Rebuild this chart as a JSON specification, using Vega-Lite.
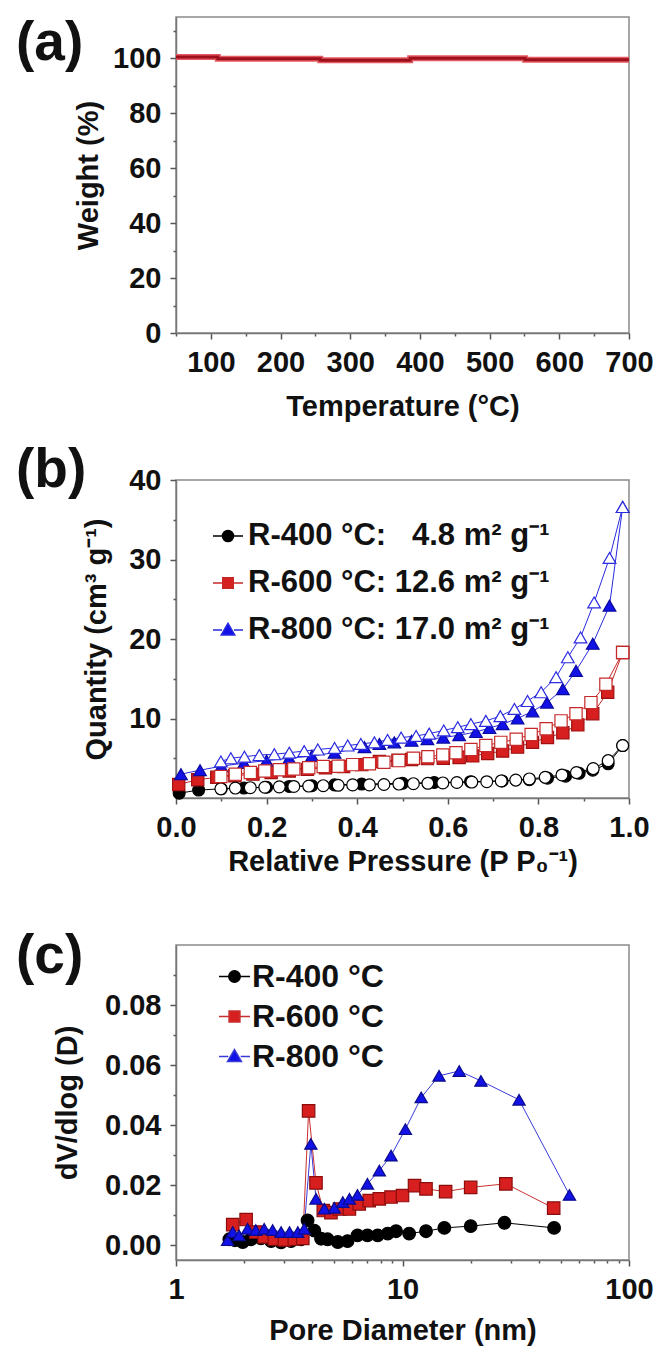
{
  "$schema": "https://vega.github.io/schema/vega-lite/v6.json",
  "background": "white",
  "padding": {"left": 15, "top": 15, "right": 0, "bottom": 0},
  "spacing": 147,
  "bounds": "flush",
  "config": {
    "font": "Liberation Sans",
    "view": {"stroke": "#8a8a8a", "strokeWidth": 1.5},
    "axis": {
      "grid": false,
      "labelFont": "Liberation Sans", "labelFontSize": 29, "labelFontWeight": "bold", "labelColor": "#111111",
      "titleFont": "Liberation Sans", "titleFontSize": 29, "titleFontWeight": "bold", "titleColor": "#111111",
      "domainColor": "#777777", "domainWidth": 1.5, "tickColor": "#555555", "tickWidth": 1.5,
      "labelFlush": false, "labelOverlap": false, "labelPadding": 9
    },
    "title": {"font": "Liberation Sans", "fontSize": 55, "fontWeight": "bold", "color": "#111111", "anchor": "start", "orient": "none", "baseline": "top", "offset": 0, "dx": -160}
  },
  "resolve": {"scale": {"fill": "independent", "stroke": "independent", "shape": "independent", "size": "independent"}, "legend": {"fill": "independent", "shape": "independent", "stroke": "independent"}},
  "vconcat": [
    {
      "width": 453, "height": 316,
      "title": {"text": "(a)", "dy": 0},
      "data": {"values": [
        {"i": 1, "t": 50, "w": 100.4}, {"i": 2, "t": 110, "w": 100.4}, {"i": 3, "t": 110, "w": 99.8},
        {"i": 4, "t": 257, "w": 99.8}, {"i": 5, "t": 257, "w": 99.3}, {"i": 6, "t": 386, "w": 99.3},
        {"i": 7, "t": 386, "w": 100.0}, {"i": 8, "t": 551, "w": 100.0}, {"i": 9, "t": 551, "w": 99.4},
        {"i": 10, "t": 700, "w": 99.4}
      ]},
      "encoding": {
        "x": {"field": "t", "type": "quantitative", "scale": {"domain": [50, 700], "nice": false, "zero": false},
          "axis": {"title": "Temperature (°C)", "titlePadding": 15,
            "values": [50, 100, 150, 200, 250, 300, 350, 400, 450, 500, 550, 600, 650, 700],
            "labelExpr": "datum.value % 100 == 0 ? datum.label : ''",
            "tickSize": {"condition": {"test": "datum.value % 100 == 0", "value": 6}, "value": 3}}},
        "y": {"field": "w", "type": "quantitative", "scale": {"domain": [0, 115], "nice": false},
          "axis": {"title": "Weight (%)", "titlePadding": 9,
            "values": [0, 10, 20, 30, 40, 50, 60, 70, 80, 90, 100, 110],
            "labelExpr": "datum.value % 20 == 0 ? datum.label : ''",
            "tickSize": {"condition": {"test": "datum.value % 20 == 0", "value": 6}, "value": 3}}},
        "order": {"field": "i", "type": "quantitative"}
      },
      "layer": [
        {"mark": {"type": "line", "color": "#e35a62", "strokeWidth": 6}},
        {"mark": {"type": "line", "color": "#9e0f1c", "strokeWidth": 3}}
      ]
    },
    {
      "width": 453, "height": 318,
      "title": {"text": "(b)", "dy": -36},
      "data": {"values": [
        {"s": "R-400", "k": "a", "i": 1, "x": 0.007, "y": 0.6},
        {"s": "R-400", "k": "a", "i": 2, "x": 0.05, "y": 1.0},
        {"s": "R-400", "k": "a", "i": 3, "x": 0.1, "y": 1.15},
        {"s": "R-400", "k": "a", "i": 4, "x": 0.15, "y": 1.25},
        {"s": "R-400", "k": "a", "i": 5, "x": 0.2, "y": 1.35},
        {"s": "R-400", "k": "a", "i": 6, "x": 0.25, "y": 1.45},
        {"s": "R-400", "k": "a", "i": 7, "x": 0.3, "y": 1.55},
        {"s": "R-400", "k": "a", "i": 8, "x": 0.35, "y": 1.65},
        {"s": "R-400", "k": "a", "i": 9, "x": 0.41, "y": 1.75},
        {"s": "R-400", "k": "a", "i": 10, "x": 0.5, "y": 1.85},
        {"s": "R-400", "k": "a", "i": 11, "x": 0.57, "y": 1.95},
        {"s": "R-400", "k": "a", "i": 12, "x": 0.65, "y": 2.05},
        {"s": "R-400", "k": "a", "i": 13, "x": 0.72, "y": 2.15},
        {"s": "R-400", "k": "a", "i": 14, "x": 0.78, "y": 2.3},
        {"s": "R-400", "k": "a", "i": 15, "x": 0.82, "y": 2.5},
        {"s": "R-400", "k": "a", "i": 16, "x": 0.86, "y": 2.75},
        {"s": "R-400", "k": "a", "i": 17, "x": 0.89, "y": 3.1},
        {"s": "R-400", "k": "a", "i": 18, "x": 0.92, "y": 3.5},
        {"s": "R-400", "k": "a", "i": 19, "x": 0.954, "y": 4.3},
        {"s": "R-400", "k": "a", "i": 20, "x": 0.986, "y": 6.6},
        {"s": "R-400", "k": "d", "i": 21, "x": 0.986, "y": 6.6},
        {"s": "R-400", "k": "d", "i": 22, "x": 0.954, "y": 4.7},
        {"s": "R-400", "k": "d", "i": 23, "x": 0.921, "y": 3.7},
        {"s": "R-400", "k": "d", "i": 24, "x": 0.884, "y": 3.2},
        {"s": "R-400", "k": "d", "i": 25, "x": 0.852, "y": 2.9},
        {"s": "R-400", "k": "d", "i": 26, "x": 0.815, "y": 2.6},
        {"s": "R-400", "k": "d", "i": 27, "x": 0.78, "y": 2.4},
        {"s": "R-400", "k": "d", "i": 28, "x": 0.75, "y": 2.25},
        {"s": "R-400", "k": "d", "i": 29, "x": 0.718, "y": 2.15},
        {"s": "R-400", "k": "d", "i": 30, "x": 0.686, "y": 2.05},
        {"s": "R-400", "k": "d", "i": 31, "x": 0.653, "y": 2.0},
        {"s": "R-400", "k": "d", "i": 32, "x": 0.62, "y": 1.95},
        {"s": "R-400", "k": "d", "i": 33, "x": 0.589, "y": 1.9},
        {"s": "R-400", "k": "d", "i": 34, "x": 0.556, "y": 1.85},
        {"s": "R-400", "k": "d", "i": 35, "x": 0.524, "y": 1.8},
        {"s": "R-400", "k": "d", "i": 36, "x": 0.492, "y": 1.75},
        {"s": "R-400", "k": "d", "i": 37, "x": 0.459, "y": 1.7},
        {"s": "R-400", "k": "d", "i": 38, "x": 0.427, "y": 1.65},
        {"s": "R-400", "k": "d", "i": 39, "x": 0.39, "y": 1.65},
        {"s": "R-400", "k": "d", "i": 40, "x": 0.358, "y": 1.6},
        {"s": "R-400", "k": "d", "i": 41, "x": 0.325, "y": 1.55},
        {"s": "R-400", "k": "d", "i": 42, "x": 0.293, "y": 1.5},
        {"s": "R-400", "k": "d", "i": 43, "x": 0.26, "y": 1.45},
        {"s": "R-400", "k": "d", "i": 44, "x": 0.228, "y": 1.4},
        {"s": "R-400", "k": "d", "i": 45, "x": 0.196, "y": 1.35},
        {"s": "R-400", "k": "d", "i": 46, "x": 0.164, "y": 1.3},
        {"s": "R-400", "k": "d", "i": 47, "x": 0.131, "y": 1.25},
        {"s": "R-400", "k": "d", "i": 48, "x": 0.099, "y": 1.15},
        {"s": "R-600", "k": "a", "i": 1, "x": 0.006, "y": 1.7},
        {"s": "R-600", "k": "a", "i": 2, "x": 0.048, "y": 2.3},
        {"s": "R-600", "k": "a", "i": 3, "x": 0.09, "y": 2.6},
        {"s": "R-600", "k": "a", "i": 4, "x": 0.13, "y": 2.8},
        {"s": "R-600", "k": "a", "i": 5, "x": 0.17, "y": 3.0},
        {"s": "R-600", "k": "a", "i": 6, "x": 0.21, "y": 3.2},
        {"s": "R-600", "k": "a", "i": 7, "x": 0.25, "y": 3.4},
        {"s": "R-600", "k": "a", "i": 8, "x": 0.29, "y": 3.6},
        {"s": "R-600", "k": "a", "i": 9, "x": 0.33, "y": 3.8},
        {"s": "R-600", "k": "a", "i": 10, "x": 0.37, "y": 3.95},
        {"s": "R-600", "k": "a", "i": 11, "x": 0.41, "y": 4.2},
        {"s": "R-600", "k": "a", "i": 12, "x": 0.449, "y": 4.6},
        {"s": "R-600", "k": "a", "i": 13, "x": 0.49, "y": 4.75},
        {"s": "R-600", "k": "a", "i": 14, "x": 0.52, "y": 4.85},
        {"s": "R-600", "k": "a", "i": 15, "x": 0.555, "y": 4.95},
        {"s": "R-600", "k": "a", "i": 16, "x": 0.59, "y": 5.0},
        {"s": "R-600", "k": "a", "i": 17, "x": 0.625, "y": 5.1},
        {"s": "R-600", "k": "a", "i": 18, "x": 0.655, "y": 5.3},
        {"s": "R-600", "k": "a", "i": 19, "x": 0.688, "y": 5.6},
        {"s": "R-600", "k": "a", "i": 20, "x": 0.721, "y": 5.9},
        {"s": "R-600", "k": "a", "i": 21, "x": 0.754, "y": 6.4},
        {"s": "R-600", "k": "a", "i": 22, "x": 0.787, "y": 7.0},
        {"s": "R-600", "k": "a", "i": 23, "x": 0.82, "y": 7.6},
        {"s": "R-600", "k": "a", "i": 24, "x": 0.854, "y": 8.2},
        {"s": "R-600", "k": "a", "i": 25, "x": 0.887, "y": 9.2},
        {"s": "R-600", "k": "a", "i": 26, "x": 0.92, "y": 10.6},
        {"s": "R-600", "k": "a", "i": 27, "x": 0.953, "y": 13.3},
        {"s": "R-600", "k": "a", "i": 28, "x": 0.986, "y": 18.3},
        {"s": "R-600", "k": "d", "i": 29, "x": 0.986, "y": 18.3},
        {"s": "R-600", "k": "d", "i": 30, "x": 0.949, "y": 14.3},
        {"s": "R-600", "k": "d", "i": 31, "x": 0.916, "y": 12.0},
        {"s": "R-600", "k": "d", "i": 32, "x": 0.883, "y": 10.6},
        {"s": "R-600", "k": "d", "i": 33, "x": 0.85, "y": 9.7},
        {"s": "R-600", "k": "d", "i": 34, "x": 0.817, "y": 8.7},
        {"s": "R-600", "k": "d", "i": 35, "x": 0.784, "y": 8.0},
        {"s": "R-600", "k": "d", "i": 36, "x": 0.751, "y": 7.4},
        {"s": "R-600", "k": "d", "i": 37, "x": 0.717, "y": 7.0},
        {"s": "R-600", "k": "d", "i": 38, "x": 0.684, "y": 6.6},
        {"s": "R-600", "k": "d", "i": 39, "x": 0.651, "y": 6.1},
        {"s": "R-600", "k": "d", "i": 40, "x": 0.618, "y": 5.7},
        {"s": "R-600", "k": "d", "i": 41, "x": 0.589, "y": 5.4},
        {"s": "R-600", "k": "d", "i": 42, "x": 0.556, "y": 5.2},
        {"s": "R-600", "k": "d", "i": 43, "x": 0.524, "y": 5.0},
        {"s": "R-600", "k": "d", "i": 44, "x": 0.492, "y": 4.7},
        {"s": "R-600", "k": "d", "i": 45, "x": 0.459, "y": 4.5},
        {"s": "R-600", "k": "d", "i": 46, "x": 0.427, "y": 4.3},
        {"s": "R-600", "k": "d", "i": 47, "x": 0.39, "y": 4.2},
        {"s": "R-600", "k": "d", "i": 48, "x": 0.358, "y": 4.0},
        {"s": "R-600", "k": "d", "i": 49, "x": 0.325, "y": 3.95},
        {"s": "R-600", "k": "d", "i": 50, "x": 0.293, "y": 3.8},
        {"s": "R-600", "k": "d", "i": 51, "x": 0.26, "y": 3.65},
        {"s": "R-600", "k": "d", "i": 52, "x": 0.228, "y": 3.55},
        {"s": "R-600", "k": "d", "i": 53, "x": 0.196, "y": 3.4},
        {"s": "R-600", "k": "d", "i": 54, "x": 0.164, "y": 3.2},
        {"s": "R-600", "k": "d", "i": 55, "x": 0.131, "y": 3.0},
        {"s": "R-600", "k": "d", "i": 56, "x": 0.099, "y": 2.7},
        {"s": "R-800", "k": "a", "i": 1, "x": 0.011, "y": 3.0},
        {"s": "R-800", "k": "a", "i": 2, "x": 0.053, "y": 3.5},
        {"s": "R-800", "k": "a", "i": 3, "x": 0.1, "y": 4.0},
        {"s": "R-800", "k": "a", "i": 4, "x": 0.15, "y": 4.4},
        {"s": "R-800", "k": "a", "i": 5, "x": 0.2, "y": 4.7},
        {"s": "R-800", "k": "a", "i": 6, "x": 0.25, "y": 5.0},
        {"s": "R-800", "k": "a", "i": 7, "x": 0.3, "y": 5.3},
        {"s": "R-800", "k": "a", "i": 8, "x": 0.35, "y": 5.7},
        {"s": "R-800", "k": "a", "i": 9, "x": 0.416, "y": 6.4},
        {"s": "R-800", "k": "a", "i": 10, "x": 0.449, "y": 6.8},
        {"s": "R-800", "k": "a", "i": 11, "x": 0.482, "y": 7.0},
        {"s": "R-800", "k": "a", "i": 12, "x": 0.52, "y": 7.2},
        {"s": "R-800", "k": "a", "i": 13, "x": 0.555, "y": 7.4},
        {"s": "R-800", "k": "a", "i": 14, "x": 0.59, "y": 7.6},
        {"s": "R-800", "k": "a", "i": 15, "x": 0.625, "y": 7.9},
        {"s": "R-800", "k": "a", "i": 16, "x": 0.662, "y": 8.3},
        {"s": "R-800", "k": "a", "i": 17, "x": 0.692, "y": 8.8},
        {"s": "R-800", "k": "a", "i": 18, "x": 0.721, "y": 9.3},
        {"s": "R-800", "k": "a", "i": 19, "x": 0.754, "y": 10.0},
        {"s": "R-800", "k": "a", "i": 20, "x": 0.787, "y": 10.9},
        {"s": "R-800", "k": "a", "i": 21, "x": 0.819, "y": 12.0},
        {"s": "R-800", "k": "a", "i": 22, "x": 0.854, "y": 13.7},
        {"s": "R-800", "k": "a", "i": 23, "x": 0.883, "y": 16.0},
        {"s": "R-800", "k": "a", "i": 24, "x": 0.92, "y": 19.4},
        {"s": "R-800", "k": "a", "i": 25, "x": 0.957, "y": 24.2},
        {"s": "R-800", "k": "a", "i": 26, "x": 0.986, "y": 36.6},
        {"s": "R-800", "k": "d", "i": 27, "x": 0.986, "y": 36.6},
        {"s": "R-800", "k": "d", "i": 28, "x": 0.957, "y": 30.2},
        {"s": "R-800", "k": "d", "i": 29, "x": 0.923, "y": 24.6},
        {"s": "R-800", "k": "d", "i": 30, "x": 0.893, "y": 20.2},
        {"s": "R-800", "k": "d", "i": 31, "x": 0.865, "y": 17.7},
        {"s": "R-800", "k": "d", "i": 32, "x": 0.839, "y": 15.2},
        {"s": "R-800", "k": "d", "i": 33, "x": 0.806, "y": 13.3},
        {"s": "R-800", "k": "d", "i": 34, "x": 0.776, "y": 12.2},
        {"s": "R-800", "k": "d", "i": 35, "x": 0.747, "y": 11.2},
        {"s": "R-800", "k": "d", "i": 36, "x": 0.716, "y": 10.3},
        {"s": "R-800", "k": "d", "i": 37, "x": 0.684, "y": 9.7},
        {"s": "R-800", "k": "d", "i": 38, "x": 0.651, "y": 9.3},
        {"s": "R-800", "k": "d", "i": 39, "x": 0.622, "y": 8.9},
        {"s": "R-800", "k": "d", "i": 40, "x": 0.591, "y": 8.5},
        {"s": "R-800", "k": "d", "i": 41, "x": 0.559, "y": 8.1},
        {"s": "R-800", "k": "d", "i": 42, "x": 0.53, "y": 7.8},
        {"s": "R-800", "k": "d", "i": 43, "x": 0.497, "y": 7.6},
        {"s": "R-800", "k": "d", "i": 44, "x": 0.467, "y": 7.3},
        {"s": "R-800", "k": "d", "i": 45, "x": 0.438, "y": 7.0},
        {"s": "R-800", "k": "d", "i": 46, "x": 0.408, "y": 6.8},
        {"s": "R-800", "k": "d", "i": 47, "x": 0.379, "y": 6.6},
        {"s": "R-800", "k": "d", "i": 48, "x": 0.35, "y": 6.3},
        {"s": "R-800", "k": "d", "i": 49, "x": 0.313, "y": 6.1},
        {"s": "R-800", "k": "d", "i": 50, "x": 0.283, "y": 5.9},
        {"s": "R-800", "k": "d", "i": 51, "x": 0.25, "y": 5.7},
        {"s": "R-800", "k": "d", "i": 52, "x": 0.217, "y": 5.5},
        {"s": "R-800", "k": "d", "i": 53, "x": 0.184, "y": 5.4},
        {"s": "R-800", "k": "d", "i": 54, "x": 0.151, "y": 5.2},
        {"s": "R-800", "k": "d", "i": 55, "x": 0.121, "y": 5.0},
        {"s": "R-800", "k": "d", "i": 56, "x": 0.099, "y": 4.6}
      ]},
      "encoding": {
        "x": {"field": "x", "type": "quantitative", "scale": {"domain": [0, 1], "nice": false, "zero": false},
          "axis": {"title": "Relative Pressure (P P₀⁻¹)", "titlePadding": 5,
            "values": [0, 0.1, 0.2, 0.3, 0.4, 0.5, 0.6, 0.7, 0.8, 0.9, 1.0],
            "labelExpr": "round(datum.value * 10) % 2 == 0 ? format(datum.value, '.1f') : ''",
            "tickSize": {"condition": {"test": "round(datum.value * 10) % 2 == 0", "value": 6}, "value": 3}}},
        "y": {"field": "y", "type": "quantitative", "scale": {"domain": [0, 40], "nice": false},
          "axis": {"title": "Quantity (cm³ g⁻¹)", "titlePadding": 17,
            "values": [5, 10, 15, 20, 25, 30, 35, 40],
            "labelExpr": "datum.value % 10 == 0 ? datum.label : ''",
            "tickSize": {"condition": {"test": "datum.value % 10 == 0", "value": 6}, "value": 3}}}
      },
      "resolve": {"scale": {"fill": "independent", "stroke": "independent", "shape": "independent", "size": "independent"}},
      "layer": [
        {"mark": {"type": "line", "strokeWidth": 1},
          "encoding": {
            "detail": {"field": "s", "type": "nominal"},
            "order": {"field": "i", "type": "quantitative"},
            "stroke": {"field": "s", "type": "nominal", "scale": {"domain": ["R-400", "R-600", "R-800"], "range": ["#000000", "#c62828", "#2a2ae0"]}, "legend": null}
          }},
        {"transform": [{"filter": "datum.k == 'a'"}],
          "mark": {"type": "point", "filled": true, "opacity": 1, "strokeWidth": 1.2},
          "encoding": {
            "shape": {"field": "s", "type": "nominal", "scale": {"domain": ["R-400", "R-600", "R-800"], "range": ["circle", "square", "triangle-up"]}, "legend": null},
            "size": {"field": "s", "type": "nominal", "scale": {"domain": ["R-400", "R-600", "R-800"], "range": [140, 160, 240]}, "legend": null},
            "stroke": {"field": "s", "type": "nominal", "scale": {"domain": ["R-400", "R-600", "R-800"], "range": ["#000000", "#a01010", "#0a0aa0"]}, "legend": null},
            "fill": {"field": "s", "type": "nominal", "scale": {"domain": ["R-400", "R-600", "R-800"], "range": ["#000000", "#d71f1f", "#1212e6"]}, "legend": null}
          }},
        {"transform": [{"filter": "datum.k == 'd'"}],
          "mark": {"type": "point", "filled": true, "opacity": 1, "strokeWidth": 1.2, "fill": "white"},
          "encoding": {
            "shape": {"field": "s", "type": "nominal", "scale": {"domain": ["R-400", "R-600", "R-800"], "range": ["circle", "square", "triangle-up"]}, "legend": null},
            "size": {"field": "s", "type": "nominal", "scale": {"domain": ["R-400", "R-600", "R-800"], "range": [140, 160, 240]}, "legend": null},
            "stroke": {"field": "s", "type": "nominal", "scale": {"domain": ["R-400", "R-600", "R-800"], "range": ["#000000", "#c62828", "#2a2ae0"]}, "legend": null}
          }},
        {"transform": [{"filter": "datum.k == 'none'"}],
          "mark": {"type": "point", "filled": true, "opacity": 1},
          "encoding": {
            "shape": {"field": "s", "type": "nominal", "scale": {"domain": ["R-400", "R-600", "R-800"], "range": [
              "M-1,0H-0.37M0.37,0H1M-0.37,0A0.37,0.37,0,1,1,0.37,0A0.37,0.37,0,1,1,-0.37,0Z",
              "M-1,0H-0.35M0.35,0H1M-0.35,-0.35H0.35V0.35H-0.35Z",
              "M-1,0H-0.4M0.4,0H1M0,-0.45L0.45,0.33L-0.45,0.33Z"]}},
            "stroke": {"field": "s", "type": "nominal", "scale": {"domain": ["R-400", "R-600", "R-800"], "range": ["#000000", "#c62828", "#2a2ae0"]}},
            "fill": {"field": "s", "type": "nominal", "scale": {"domain": ["R-400", "R-600", "R-800"], "range": ["#000000", "#d71f1f", "#1212e6"]},
              "legend": {"orient": "none", "legendX": 36, "legendY": 40, "title": null, "padding": 0,
                "symbolSize": 900, "symbolStrokeWidth": 1.5, "symbolOpacity": 1, "rowPadding": 16, "labelOffset": 4, "labelLimit": 0,
                "labelFont": "Liberation Sans", "labelFontSize": 31, "labelFontWeight": "bold", "labelColor": "#111111",
                "labelExpr": "datum.label == 'R-400' ? 'R-400 °C:\u00a0\u00a0 4.8 m² g⁻¹' : datum.label == 'R-600' ? 'R-600 °C: 12.6 m² g⁻¹' : 'R-800 °C: 17.0 m² g⁻¹'"}}
          }}
      ]
    },
    {
      "width": 453, "height": 315,
      "title": {"text": "(c)", "dy": -15},
      "data": {"values": [
        {"s": "R-400", "d": 1.72, "v": 0.0019}, {"s": "R-400", "d": 1.82, "v": 0.0016}, {"s": "R-400", "d": 1.97, "v": 0.001},
        {"s": "R-400", "d": 2.14, "v": 0.0019}, {"s": "R-400", "d": 2.37, "v": 0.0022}, {"s": "R-400", "d": 2.63, "v": 0.0013},
        {"s": "R-400", "d": 2.91, "v": 0.0009}, {"s": "R-400", "d": 3.22, "v": 0.0013}, {"s": "R-400", "d": 3.56, "v": 0.0019},
        {"s": "R-400", "d": 3.81, "v": 0.0082}, {"s": "R-400", "d": 4.08, "v": 0.0048}, {"s": "R-400", "d": 4.37, "v": 0.0021},
        {"s": "R-400", "d": 4.67, "v": 0.0019}, {"s": "R-400", "d": 5.18, "v": 0.001}, {"s": "R-400", "d": 5.72, "v": 0.0013},
        {"s": "R-400", "d": 6.33, "v": 0.0032}, {"s": "R-400", "d": 7.0, "v": 0.0032}, {"s": "R-400", "d": 7.77, "v": 0.0032},
        {"s": "R-400", "d": 8.6, "v": 0.0038}, {"s": "R-400", "d": 9.37, "v": 0.0046}, {"s": "R-400", "d": 10.7, "v": 0.0038},
        {"s": "R-400", "d": 12.7, "v": 0.0046}, {"s": "R-400", "d": 15.3, "v": 0.0057}, {"s": "R-400", "d": 20.0, "v": 0.0063},
        {"s": "R-400", "d": 28.2, "v": 0.0074}, {"s": "R-400", "d": 46.7, "v": 0.0057},
        {"s": "R-600", "d": 1.78, "v": 0.0068}, {"s": "R-600", "d": 2.04, "v": 0.0085}, {"s": "R-600", "d": 2.25, "v": 0.0043},
        {"s": "R-600", "d": 2.45, "v": 0.0027}, {"s": "R-600", "d": 2.72, "v": 0.002}, {"s": "R-600", "d": 3.01, "v": 0.0017},
        {"s": "R-600", "d": 3.33, "v": 0.002}, {"s": "R-600", "d": 3.63, "v": 0.0022}, {"s": "R-600", "d": 3.85, "v": 0.0447},
        {"s": "R-600", "d": 4.15, "v": 0.0207}, {"s": "R-600", "d": 4.47, "v": 0.0115}, {"s": "R-600", "d": 4.83, "v": 0.0108},
        {"s": "R-600", "d": 5.27, "v": 0.012}, {"s": "R-600", "d": 5.83, "v": 0.012}, {"s": "R-600", "d": 6.44, "v": 0.0137},
        {"s": "R-600", "d": 7.13, "v": 0.0148}, {"s": "R-600", "d": 7.9, "v": 0.0154}, {"s": "R-600", "d": 8.9, "v": 0.016},
        {"s": "R-600", "d": 10.0, "v": 0.0165}, {"s": "R-600", "d": 11.3, "v": 0.0198}, {"s": "R-600", "d": 12.7, "v": 0.0187},
        {"s": "R-600", "d": 15.5, "v": 0.0178}, {"s": "R-600", "d": 20.0, "v": 0.0192}, {"s": "R-600", "d": 28.6, "v": 0.0204},
        {"s": "R-600", "d": 46.5, "v": 0.0123},
        {"s": "R-800", "d": 1.69, "v": 0.0016}, {"s": "R-800", "d": 1.78, "v": 0.0043}, {"s": "R-800", "d": 1.9, "v": 0.0032},
        {"s": "R-800", "d": 2.07, "v": 0.0054}, {"s": "R-800", "d": 2.25, "v": 0.005}, {"s": "R-800", "d": 2.45, "v": 0.0054},
        {"s": "R-800", "d": 2.67, "v": 0.005}, {"s": "R-800", "d": 2.91, "v": 0.0043}, {"s": "R-800", "d": 3.17, "v": 0.0043},
        {"s": "R-800", "d": 3.45, "v": 0.0043}, {"s": "R-800", "d": 3.68, "v": 0.0054}, {"s": "R-800", "d": 3.94, "v": 0.0337},
        {"s": "R-800", "d": 4.15, "v": 0.0154}, {"s": "R-800", "d": 4.52, "v": 0.0121}, {"s": "R-800", "d": 5.0, "v": 0.0124},
        {"s": "R-800", "d": 5.45, "v": 0.0143}, {"s": "R-800", "d": 5.83, "v": 0.0154}, {"s": "R-800", "d": 6.33, "v": 0.0167},
        {"s": "R-800", "d": 7.0, "v": 0.0204}, {"s": "R-800", "d": 7.9, "v": 0.0248}, {"s": "R-800", "d": 8.9, "v": 0.0298},
        {"s": "R-800", "d": 10.3, "v": 0.0386}, {"s": "R-800", "d": 12.1, "v": 0.0492}, {"s": "R-800", "d": 14.5, "v": 0.0564},
        {"s": "R-800", "d": 17.8, "v": 0.058}, {"s": "R-800", "d": 22.2, "v": 0.0547}, {"s": "R-800", "d": 32.7, "v": 0.0484},
        {"s": "R-800", "d": 54.6, "v": 0.0167}
      ]},
      "encoding": {
        "x": {"field": "d", "type": "quantitative", "scale": {"type": "log", "domain": [1, 100], "nice": false},
          "axis": {"title": "Pore Diameter (nm)", "titlePadding": 12,
            "values": [1, 2, 3, 4, 5, 6, 7, 8, 9, 10, 20, 30, 40, 50, 60, 70, 80, 90, 100],
            "labelExpr": "datum.value == 1 || datum.value == 10 || datum.value == 100 ? format(datum.value, 'd') : ''",
            "tickSize": {"condition": {"test": "datum.value == 1 || datum.value == 10 || datum.value == 100", "value": 6}, "value": 3}}},
        "y": {"field": "v", "type": "quantitative", "scale": {"domain": [-0.005, 0.1], "nice": false, "zero": false},
          "axis": {"title": "dV/dlog (D)", "titlePadding": 22,
            "values": [0, 0.01, 0.02, 0.03, 0.04, 0.05, 0.06, 0.07, 0.08, 0.09],
            "labelExpr": "round(datum.value * 100) % 2 == 0 ? format(datum.value, '.2f') : ''",
            "tickSize": {"condition": {"test": "round(datum.value * 100) % 2 == 0", "value": 6}, "value": 3}}}
      },
      "resolve": {"scale": {"fill": "independent", "stroke": "independent", "shape": "independent", "size": "independent"}},
      "layer": [
        {"mark": {"type": "line", "strokeWidth": 1},
          "encoding": {
            "stroke": {"field": "s", "type": "nominal", "scale": {"domain": ["R-400", "R-600", "R-800"], "range": ["#000000", "#c83030", "#3a3ad8"]}, "legend": null}
          }},
        {"mark": {"type": "point", "filled": true, "opacity": 1, "strokeWidth": 1.2},
          "encoding": {
            "shape": {"field": "s", "type": "nominal", "scale": {"domain": ["R-400", "R-600", "R-800"], "range": ["circle", "square", "triangle-up"]}, "legend": null},
            "size": {"field": "s", "type": "nominal", "scale": {"domain": ["R-400", "R-600", "R-800"], "range": [160, 150, 230]}, "legend": null},
            "stroke": {"field": "s", "type": "nominal", "scale": {"domain": ["R-400", "R-600", "R-800"], "range": ["#000000", "#8c0d0d", "#0a0a8c"]}, "legend": null},
            "fill": {"field": "s", "type": "nominal", "scale": {"domain": ["R-400", "R-600", "R-800"], "range": ["#000000", "#d71f1f", "#1212e6"]}, "legend": null}
          }},
        {"transform": [{"filter": "datum.s == 'none'"}],
          "mark": {"type": "point", "filled": true, "opacity": 1},
          "encoding": {
            "shape": {"field": "s", "type": "nominal", "scale": {"domain": ["R-400", "R-600", "R-800"], "range": [
              "M-1,0H-0.37M0.37,0H1M-0.37,0A0.37,0.37,0,1,1,0.37,0A0.37,0.37,0,1,1,-0.37,0Z",
              "M-1,0H-0.35M0.35,0H1M-0.35,-0.35H0.35V0.35H-0.35Z",
              "M-1,0H-0.4M0.4,0H1M0,-0.45L0.45,0.33L-0.45,0.33Z"]}},
            "stroke": {"field": "s", "type": "nominal", "scale": {"domain": ["R-400", "R-600", "R-800"], "range": ["#000000", "#c83030", "#3a3ad8"]}},
            "fill": {"field": "s", "type": "nominal", "scale": {"domain": ["R-400", "R-600", "R-800"], "range": ["#000000", "#d71f1f", "#1212e6"]},
              "legend": {"orient": "none", "legendX": 42, "legendY": 15, "title": null, "padding": 0,
                "symbolSize": 960, "symbolStrokeWidth": 1.5, "symbolOpacity": 1, "rowPadding": 7, "labelOffset": 1, "labelLimit": 0,
                "labelFont": "Liberation Sans", "labelFontSize": 32, "labelFontWeight": "bold", "labelColor": "#111111",
                "labelExpr": "datum.label + ' °C'"}}
          }}
      ]
    }
  ]
}
